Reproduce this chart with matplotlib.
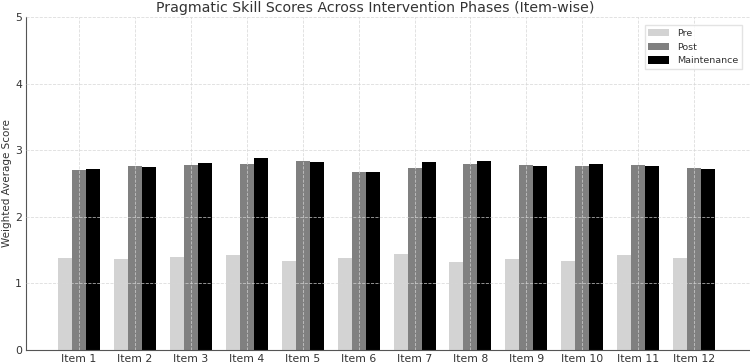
import numpy as np
import matplotlib.pyplot as plt

items = ["Item %d" % i for i in range(1, 13)]
pre = [1.38, 1.36, 1.40, 1.42, 1.34, 1.38, 1.44, 1.32, 1.36, 1.34, 1.42, 1.38]
post = [2.70, 2.76, 2.78, 2.80, 2.84, 2.68, 2.74, 2.80, 2.78, 2.76, 2.78, 2.74]
maintenance = [2.72, 2.75, 2.81, 2.88, 2.83, 2.67, 2.82, 2.84, 2.76, 2.79, 2.76, 2.72]

x = np.arange(len(items))
w = 0.25

fig = plt.figure(figsize=(7.5, 3.64), dpi=100)
ax = fig.add_axes([26 / 750, 14 / 364, 1 - 26 / 750, 1 - 14 / 364 - 17 / 364])

ax.bar(x - w, pre, w, color="#d3d3d3", label="Pre")
ax.bar(x, post, w, color="#808080", label="Post")
ax.bar(x + w, maintenance, w, color="black", label="Maintenance")

ax.set_xlim(-0.95, 12.0)
ax.set_ylim(0, 5)
ax.set_xticks(x)
ax.set_xticklabels(items)
ax.set_yticks([0, 1, 2, 3, 4, 5])
ax.tick_params(labelsize=7.8, colors="#333333", length=0, pad=3)
ax.set_ylabel("Weighted Average Score", fontsize=7.5, color="#333333")
ax.yaxis.set_label_coords(-0.019, 0.5)
fig.suptitle("Pragmatic Skill Scores Across Intervention Phases (Item-wise)",
             fontsize=10.2, color="#333333", y=0.998, va="top")

ax.grid(True, linestyle="--", color="#d5d5d5", linewidth=0.6, alpha=0.8)
ax.set_axisbelow(False)
for s in ["top", "right"]:
    ax.spines[s].set_visible(False)
for s in ["left", "bottom"]:
    ax.spines[s].set_color("#555555")
    ax.spines[s].set_linewidth(0.8)

leg = ax.legend(loc="upper right", fontsize=6.8, frameon=True, fancybox=False,
                edgecolor="#dddddd", bbox_to_anchor=(0.995, 0.99),
                handlelength=2.2, handleheight=0.8, labelcolor="#333333")

fig.savefig("out.png")
